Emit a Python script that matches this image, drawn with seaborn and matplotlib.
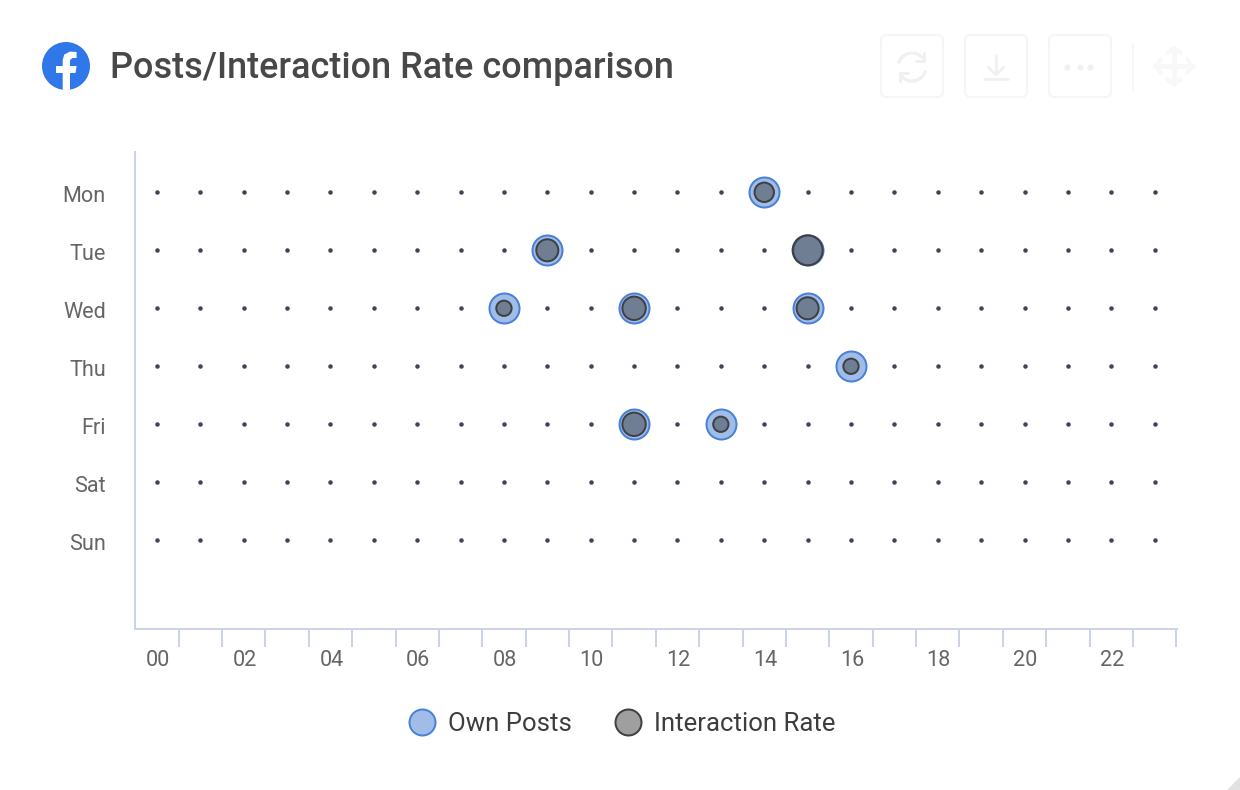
import numpy as np
import pandas as pd
import seaborn as sns
import matplotlib.pyplot as plt
from matplotlib.lines import Line2D
from matplotlib.patches import Circle, FancyBboxPatch, Polygon, Arc
from matplotlib.transforms import ScaledTranslation

days = ['Mon', 'Tue', 'Wed', 'Thu', 'Fri', 'Sat', 'Sun']
hours = [f'{h:02d}' for h in range(24)]

post_days = ['Mon', 'Tue', 'Tue', 'Wed', 'Wed', 'Wed', 'Thu', 'Fri', 'Fri']
post_hours = ['14', '09', '15', '08', '11', '15', '16', '11', '13']
# interaction rate, relative to the busiest slot
rates = [0.42, 0.54, 1.0, 0.26, 0.61, 0.54, 0.26, 0.61, 0.26]

title = 'Posts/Interaction Rate comparison'
AXIS = '#c9d4e9'
TEXT = '#666666'
W, H = 1240, 790


def px(v):
    # pixels to points at dpi 100
    return v * 0.72


def draw_header(fig):
    # overlay in image pixel coordinates for the title, icons and toolbar
    ov = fig.add_axes([0, 0, 1, 1], zorder=5)
    ov.set_xlim(0, W)
    ov.set_ylim(H, 0)
    ov.axis('off')
    ov.patch.set_alpha(0)

    # facebook logo
    disc = Circle((66, 66), 24, color='#3078ea', lw=0)
    ov.add_patch(disc)
    f_pts = [(62.7, 91), (62.7, 73), (56, 73), (56, 66), (62.7, 66), (62.7, 60),
             (64.2, 54.6), (70, 51.6), (76.6, 52), (76.6, 58), (72.6, 58),
             (70, 60), (70, 66), (76.6, 66), (75.5, 73), (70, 73), (70, 91)]
    f_shape = Polygon(f_pts, closed=True, color='white', lw=0)
    ov.add_patch(f_shape)
    f_shape.set_clip_path(disc)

    ov.text(110, 64.5, title, fontsize=25.9, color='#484848', fontweight='medium',
            ha='left', va='center_baseline')

    # faded toolbar
    edge = '#f5f5f5'
    icon = '#f0f0f0'
    faint = '#f8f8f8'
    for x0 in [881, 965, 1049]:
        ov.add_patch(FancyBboxPatch((x0 + 6, 41), 50, 50,
                                    boxstyle='round,pad=6,rounding_size=6',
                                    fc='white', ec=edge, lw=px(2)))
    # refresh
    ov.add_patch(Arc((912, 67), 28, 28, theta1=195, theta2=320, color=icon, lw=px(3.2)))
    ov.add_patch(Arc((912, 67), 28, 28, theta1=15, theta2=140, color=icon, lw=px(3.2)))
    ov.plot([924, 924, 916], [53, 61, 61], color=icon, lw=px(3))
    ov.plot([900, 900, 908], [81, 73, 73], color=icon, lw=px(3))
    # download
    ov.plot([996, 996], [55, 74], color=icon, lw=px(2.6))
    ov.plot([988, 996, 1004], [67, 75, 67], color=icon, lw=px(2.6))
    ov.plot([984, 1008], [79, 79], color=icon, lw=px(2.6))
    # dots
    ov.scatter([1067, 1080, 1090], [67, 67, 67], s=px(6) ** 2, color=icon, lw=0)
    # separator
    ov.plot([1133, 1133], [43, 90], color=edge, lw=px(1.5))
    # move
    ov.plot([1155, 1193], [66, 66], color=faint, lw=px(5))
    ov.plot([1174, 1174], [48, 84], color=faint, lw=px(5))
    for a, b in [((1161, 59), (1156, 66)), ((1161, 73), (1156, 66)),
                 ((1187, 59), (1192, 66)), ((1187, 73), (1192, 66)),
                 ((1167, 53), (1174, 48)), ((1181, 53), (1174, 48)),
                 ((1167, 79), (1174, 84)), ((1181, 79), (1174, 84))]:
        ov.plot([a[0], b[0]], [a[1], b[1]], color=faint, lw=px(4))

    # corner of the resize handle
    ov.add_patch(Polygon([(1227, 790), (1240, 777), (1240, 790)], color='#e2e2e2', lw=0))


def main():
    sns.set_theme(style='white')
    plt.rcParams['font.family'] = ['Roboto', 'DejaVu Sans']

    grid = pd.DataFrame([(d, h) for d in days for h in hours], columns=['day', 'hour'])
    posts = pd.DataFrame({'day': post_days, 'hour': post_hours, 'rate': rates})

    fig = plt.figure(figsize=(W / 100, H / 100), dpi=100)
    ax = fig.add_axes([135 / W, 1 - 629 / H, (1177 - 135) / W, (629 - 152) / H])

    sns.scatterplot(data=grid, x='hour', y='day', ax=ax, color='#3c4658', s=px(4.5) ** 2,
                    linewidth=0, marker='o', legend=False, zorder=1)
    sns.scatterplot(data=posts, x='hour', y='day', ax=ax, color='#a0bde8', s=px(30) ** 2,
                    edgecolor='#4a80d8', linewidth=px(2), legend=False, zorder=2)
    sns.scatterplot(data=posts, x='hour', y='day', size='rate', sizes=(0, px(30) ** 2),
                    size_norm=(0, 1), ax=ax, edgecolor='#3f4044', linewidth=px(2),
                    legend=False, zorder=3)
    ax.collections[-1].set_facecolor((0.25, 0.25, 0.25, 0.5))

    ax.set_xlim(-0.505, 23.515)
    ax.set_ylim(7.53, -0.695)
    ax.set_xlabel('')
    ax.set_ylabel('')

    ax.set_xticks(range(0, 24, 2), hours[::2])
    ax.set_xticks(np.arange(0.5, 24, 1), minor=True)
    ax.set_yticks(range(len(days)), days)
    ax.tick_params(axis='x', which='major', length=0, pad=px(21.5), labelsize=15.6, labelcolor=TEXT)
    ax.tick_params(axis='x', which='minor', length=px(18), width=px(2), color=AXIS, bottom=True)
    ax.tick_params(axis='y', which='major', length=0, pad=px(29), labelsize=15.6, labelcolor=TEXT)

    # labels sit a touch off their rows and columns
    down = ScaledTranslation(0, -2 / 100, fig.dpi_scale_trans)
    right = ScaledTranslation(1 / 100, 0, fig.dpi_scale_trans)
    for lab in ax.get_yticklabels():
        lab.set_verticalalignment('center_baseline')
        lab.set_transform(lab.get_transform() + down)
    for lab in ax.get_xticklabels():
        lab.set_transform(lab.get_transform() + right)

    sns.despine(ax=ax)
    for side in ['left', 'bottom']:
        ax.spines[side].set_color(AXIS)
        ax.spines[side].set_linewidth(px(2))

    handles = [
        Line2D([], [], ls='', marker='o', ms=px(26), mfc='#a0bde8', mec='#4a80d8', mew=px(2)),
        Line2D([], [], ls='', marker='o', ms=px(26), mfc='#9f9f9f', mec='#3f4044', mew=px(2)),
    ]
    fig.legend(handles, ['Own Posts', 'Interaction Rate'], ncol=2, frameon=False,
               loc='center', bbox_to_anchor=(621 / W, 1 - 724 / H), fontsize=18.5,
               labelcolor='#3d3d3d', handletextpad=0.4, columnspacing=1.6, handlelength=1.2)

    draw_header(fig)
    fig.savefig('out.png', dpi=100)
    plt.close(fig)


if __name__ == '__main__':
    main()
